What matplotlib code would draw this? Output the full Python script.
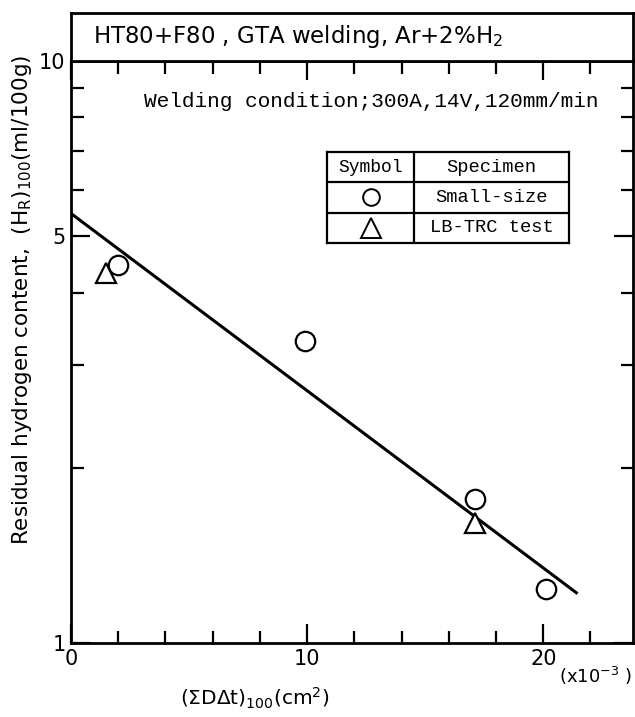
import numpy as np
import matplotlib.pyplot as plt
from matplotlib.ticker import FixedLocator, MultipleLocator, NullFormatter

# data
small_x = [2.0, 9.9, 17.1, 20.1]
small_y = [4.47, 3.30, 1.77, 1.24]
lbtrc_x = [1.5, 17.1]
lbtrc_y = [4.33, 1.61]
fit_x = [0.0, 21.4]
fit_y = [5.47, 1.22]

plt.rcParams['font.family'] = 'DejaVu Sans'
mono = 'Liberation Mono'

fig = plt.figure(figsize=(6.35, 7.17), dpi=100)
L, B, W, H = 71/635, 1-643/717, (633-71)/635, (643-61)/717
ax = fig.add_axes([L, B, W, H])

ax.plot(fit_x, fit_y, color='black', lw=2.2, zorder=2)
ax.plot(small_x, small_y, 'o', ms=14, mfc='white', mec='black', mew=1.6, zorder=3)
ax.plot(lbtrc_x, lbtrc_y, '^', ms=14, mfc='white', mec='black', mew=1.6, zorder=3)

ax.set_yscale('log')
ax.set_ylim(1, 10)
ax.set_xlim(0, 23.8)
ax.yaxis.set_major_locator(FixedLocator([1, 5, 10]))
ax.yaxis.set_minor_locator(FixedLocator([2, 3, 4, 6, 7, 8, 9]))
ax.set_yticklabels(['1', '5', '10'])
ax.yaxis.set_minor_formatter(NullFormatter())
ax.xaxis.set_major_locator(FixedLocator([0, 10, 20]))
ax.xaxis.set_minor_locator(MultipleLocator(2))
ax.tick_params(which='both', direction='in', top=True, right=True, width=1.6, labelsize=15, pad=4)
ax.tick_params(which='major', length=14)
ax.tick_params(which='minor', length=9)
for s in ax.spines.values():
    s.set_linewidth(2)

ax.text(0.13, 0.93, 'Welding condition;300A,14V,120mm/min', transform=ax.transAxes,
        family=mono, fontsize=15.2, va='center', ha='left')

# header box
hx = fig.add_axes([L, 1-61/717, W, (61-13)/717])
hx.set_xticks([]); hx.set_yticks([])
for s in hx.spines.values():
    s.set_linewidth(2)
hx.text(0.04, 0.5, 'HT80+F80 , GTA welding, Ar+2%H$_2$', transform=hx.transAxes,
        fontsize=16.5, va='center', ha='left')

# legend table
tx = fig.add_axes([327/635, 1-243/717, (569-327)/635, (243-152)/717])
tx.set_xlim(0, 1); tx.set_ylim(0, 3)
tx.set_xticks([]); tx.set_yticks([])
for s in tx.spines.values():
    s.set_linewidth(1.6)
tx.axvline(0.36, color='black', lw=1.6)
tx.axhline(1, color='black', lw=1.6)
tx.axhline(2, color='black', lw=1.6)
tx.text(0.18, 2.5, 'Symbol', family=mono, fontsize=13, ha='center', va='center')
tx.text(0.68, 2.5, 'Specimen', family=mono, fontsize=13.5, ha='center', va='center')
tx.text(0.68, 1.5, 'Small-size', family=mono, fontsize=13.5, ha='center', va='center')
tx.text(0.68, 0.5, 'LB-TRC test', family=mono, fontsize=13.5, ha='center', va='center')
tx.plot([0.18], [1.5], 'o', ms=12, mfc='white', mec='black', mew=1.4)
tx.plot([0.18], [0.5], '^', ms=14, mfc='white', mec='black', mew=1.4)

fig.text(22/635, 1-300/717, 'Residual hydrogen content,  (H$_\\mathregular{R}$)$_\\mathregular{100}$(ml/100g)',
         rotation=90, fontsize=15.5, ha='center', va='center')
fig.text(255/635, 1-698/717, '($\\Sigma$D$\\Delta$t)$_\\mathregular{100}$(cm$^\\mathregular{2}$)',
         fontsize=14.5, ha='center', va='center')
fig.text(596/635, 1-676/717, '(x10$^\\mathregular{-3}$ )', fontsize=13, ha='center', va='center')

fig.savefig('out.png', dpi=100)
